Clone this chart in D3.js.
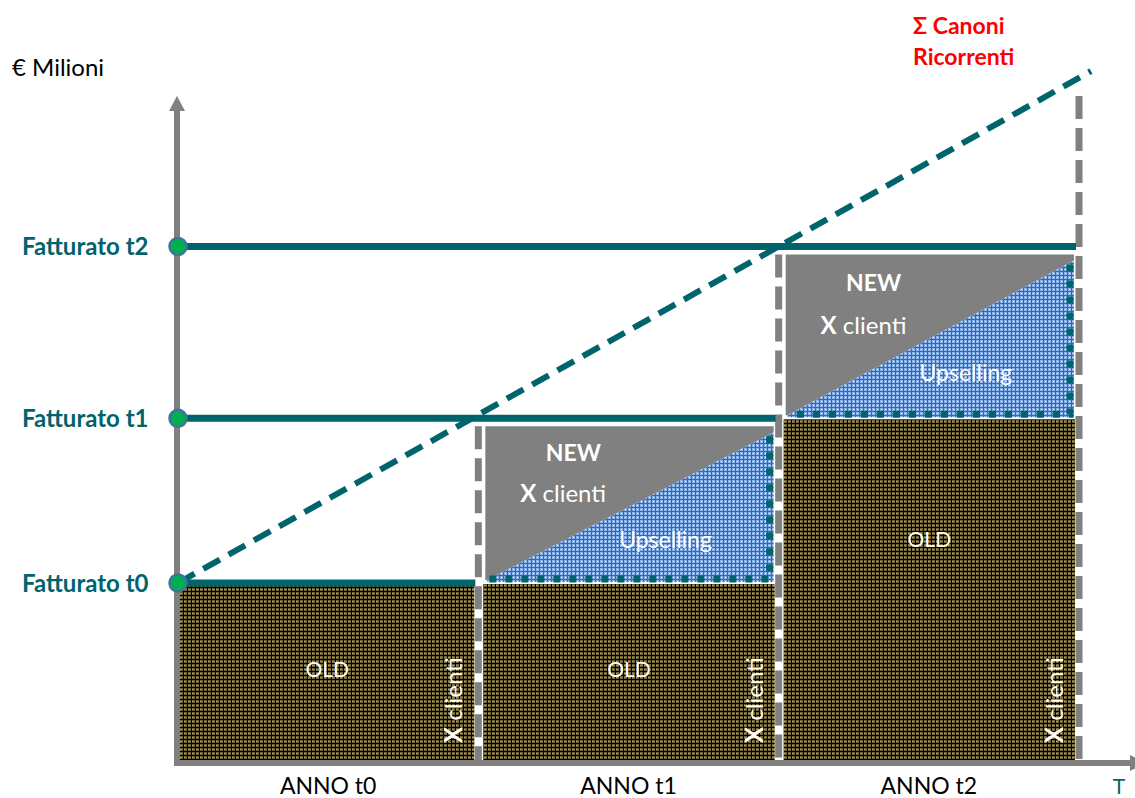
<!DOCTYPE html>
<html>
<head>
<meta charset="utf-8">
<script src="https://cdn.jsdelivr.net/npm/d3@7"></script>
<style>
  html, body { margin: 0; padding: 0; background: #ffffff; }
  svg { display: block; font-family: Lato, "Open Sans", sans-serif; }
</style>
</head>
<body>
<svg id="chart" width="1135" height="798"></svg>
<script>
// ---- data ----
const years = ["ANNO t0", "ANNO t1", "ANNO t2"];
const fatturatoLabels = ["Fatturato t0", "Fatturato t1", "Fatturato t2"];
const fatturato = [10, 19.2, 28.8];          // revenue level reached in each year
const oldRevenue = [10, 10, 19.2];           // recurring revenue from existing clients
const canoniYears = [0, 1, 2, 3.04];
const canoniValues = [10, 19.4, 28.8, 38.6]; // cumulative recurring fees
const axisTopValue = 37.2;

// ---- layout ----
const W = 1135, H = 798;
const teal = "#00646c", gray = "#808080";
const svg = d3.select("#chart");

const x = d3.scaleLinear().domain([0, 3]).range([178, 1079]);
const y = d3.scaleLinear().domain([0, 40]).range([762, 46]);

// ---- textures ----
const defs = svg.append("defs");
const oldPat = defs.append("pattern").attr("id", "oldTex")
  .attr("patternUnits", "userSpaceOnUse").attr("width", 4).attr("height", 4);
oldPat.append("rect").attr("width", 4).attr("height", 4).attr("fill", "#6f6438");
oldPat.append("rect").attr("x", 0).attr("y", 3).attr("width", 4).attr("height", 1).attr("fill", "#000");
oldPat.append("rect").attr("x", 3).attr("y", 0).attr("width", 1).attr("height", 4).attr("fill", "#000");
oldPat.append("rect").attr("x", 1).attr("y", 1).attr("width", 1).attr("height", 1).attr("fill", "#d08030");
oldPat.append("rect").attr("x", 0).attr("y", 1).attr("width", 1).attr("height", 1).attr("fill", "#a0a040");

const upPat = defs.append("pattern").attr("id", "upTex")
  .attr("patternUnits", "userSpaceOnUse").attr("width", 4).attr("height", 4);
upPat.append("rect").attr("width", 4).attr("height", 4).attr("fill", "#86b0ea");
upPat.append("rect").attr("x", 0).attr("y", 3).attr("width", 4).attr("height", 1).attr("fill", "#3468c0");
upPat.append("rect").attr("x", 3).attr("y", 0).attr("width", 1).attr("height", 4).attr("fill", "#3468c0");
upPat.append("rect").attr("x", 1).attr("y", 1).attr("width", 1).attr("height", 1).attr("fill", "#ffffff");

svg.selectAll("pattern rect").attr("shape-rendering", "crispEdges");

// ---- OLD blocks ----
const oldLabelFrac = [0.48, 0.48, 0.35];
const oldBlocks = years.map((yr, i) => ({
  i,
  L: i === 0 ? x(0) + 2 : x(i) + 5,
  R: x(i + 1) - 4,
  T: y(oldRevenue[i]) + 1,
  B: y(0) - 2
}));

svg.append("g").selectAll("rect").data(oldBlocks).join("rect")
  .attr("x", d => d.L).attr("y", d => d.T)
  .attr("width", d => d.R - d.L).attr("height", d => d.B - d.T)
  .attr("fill", "url(#oldTex)");

// ---- NEW / Upselling blocks ----
const newBlocks = years.map((yr, i) => ({
  i,
  L: x(i) + 7,
  R: x(i + 1) - 5,
  T: y(fatturato[i]) + 8,
  B: y(oldRevenue[i]) - 3
})).filter(d => fatturato[d.i] > oldRevenue[d.i]);

const gNew = svg.append("g");
gNew.selectAll("path.new").data(newBlocks).join("path").attr("class", "new")
  .attr("d", d => `M${d.L},${d.T}L${d.R},${d.T}L${d.R},${d.T + 6}L${d.L + 2},${d.B}L${d.L},${d.B}Z`)
  .attr("fill", gray);
gNew.selectAll("path.up").data(newBlocks).join("path").attr("class", "up")
  .attr("d", d => `M${d.L + 2},${d.B}L${d.R},${d.T + 6}L${d.R},${d.B + 2}L${d.L + 2},${d.B + 2}Z`)
  .attr("fill", "url(#upTex)");
gNew.selectAll("path.upBorder").data(newBlocks).join("path").attr("class", "upBorder")
  .attr("d", d => `M${d.R - 4},${d.T + 10}L${d.R - 4},${d.B - 1}L${d.L + 4},${d.B - 1}`)
  .attr("fill", "none").attr("stroke", teal).attr("stroke-width", 7)
  .attr("stroke-dasharray", "7,9");

// ---- year boundaries (grey dashed) ----
const boundaries = [1, 2, 3].map(k => {
  const nb = newBlocks.find(d => d.i === k);
  return { k, top: nb ? nb.T : y(axisTopValue) };
});
svg.append("g").selectAll("line").data(boundaries).join("line")
  .attr("x1", d => x(d.k)).attr("x2", d => x(d.k))
  .attr("y1", d => d.top).attr("y2", y(0))
  .attr("stroke", gray).attr("stroke-width", 7)
  .attr("stroke-dasharray", "23,9");

// ---- Fatturato levels ----
svg.append("g").selectAll("line").data(fatturato).join("line")
  .attr("x1", x(0)).attr("x2", (d, i) => x(i + 1) - 3)
  .attr("y1", d => y(d)).attr("y2", d => y(d))
  .attr("stroke", teal).attr("stroke-width", 7);

// ---- Σ Canoni Ricorrenti ----
const canoni = canoniYears.map((t, i) => [t, canoniValues[i]]);
svg.append("path").datum(canoni)
  .attr("d", d3.line().x(d => x(d[0])).y(d => y(d[1])))
  .attr("fill", "none").attr("stroke", teal).attr("stroke-width", 6)
  .attr("stroke-dasharray", "19,10");

// ---- axes ----
const axisX0 = x(0) - 1;
const tipY = y(axisTopValue);
svg.append("line").attr("x1", axisX0).attr("x2", axisX0)
  .attr("y1", y(0) + 3).attr("y2", tipY + 12)
  .attr("stroke", gray).attr("stroke-width", 6);
svg.append("path")
  .attr("d", `M${axisX0},${tipY}L${axisX0 + 8},${tipY + 15}L${axisX0 - 8},${tipY + 15}Z`)
  .attr("fill", gray);

const baseY = y(0) + 1;
svg.append("line").attr("x1", axisX0 - 3).attr("x2", 1132)
  .attr("y1", baseY).attr("y2", baseY)
  .attr("stroke", gray).attr("stroke-width", 6);
svg.append("path")
  .attr("d", `M1146,${baseY}L1130,${baseY - 8}L1130,${baseY + 8}Z`)
  .attr("fill", gray);

// ---- level markers ----
svg.append("g").selectAll("circle").data(fatturato).join("circle")
  .attr("cx", axisX0 + 1).attr("cy", d => y(d)).attr("r", 8.5)
  .attr("fill", "#00b050").attr("stroke", "#41719c").attr("stroke-width", 2.5);

// ---- text ----
svg.append("g").selectAll("text").data(fatturato).join("text")
  .attr("x", 22).attr("y", d => y(d) + 9)
  .attr("fill", teal).attr("font-weight", 700).attr("font-size", 24)
  .text((d, i) => fatturatoLabels[i]);

svg.append("g").selectAll("text").data(years).join("text")
  .attr("x", (d, i) => (x(i) + x(i + 1)) / 2).attr("y", 794)
  .attr("text-anchor", "middle").attr("font-size", 23).attr("fill", "#000")
  .text(d => d);

svg.append("text").attr("x", 12).attr("y", 76)
  .attr("font-size", 24).attr("fill", "#000").text("€ Milioni");

svg.append("text").attr("x", 1119).attr("y", 794).attr("text-anchor", "middle")
  .attr("font-size", 21).attr("fill", teal).text("T");

const canoniTitle = svg.append("text").attr("fill", "#ff0000")
  .attr("font-weight", 700).attr("font-size", 23);
canoniTitle.append("tspan").attr("x", 913).attr("y", 34).text("Σ Canoni");
canoniTitle.append("tspan").attr("x", 913).attr("y", 65).text("Ricorrenti");

// OLD labels
svg.append("g").selectAll("text").data(oldBlocks).join("text")
  .attr("x", d => (d.L + d.R) / 2)
  .attr("y", d => d.T + oldLabelFrac[d.i] * (d.B - d.T))
  .attr("dominant-baseline", "central").attr("text-anchor", "middle")
  .attr("font-size", 21).attr("fill", "#ffffff").text("OLD");

// vertical "X clienti"
const vLab = svg.append("g").selectAll("text").data(oldBlocks).join("text")
  .attr("transform", d => `translate(${d.R - 22},${y(0) - 62}) rotate(-90)`)
  .attr("dominant-baseline", "central").attr("text-anchor", "middle")
  .attr("font-size", 24).attr("fill", "#ffffff");
vLab.append("tspan").attr("font-weight", 700).text("X");
vLab.append("tspan").text(" clienti");

// NEW / X clienti / Upselling labels
const gNewText = svg.append("g").attr("fill", "#ffffff").attr("text-anchor", "middle")
  .attr("dominant-baseline", "central");
gNewText.selectAll("text.n").data(newBlocks).join("text").attr("class", "n")
  .attr("x", d => d.L + 0.305 * (d.R - d.L)).attr("y", d => d.T + 0.17 * (d.B - d.T))
  .attr("font-size", 23).attr("font-weight", 700).text("NEW");
const xc = gNewText.selectAll("text.c").data(newBlocks).join("text").attr("class", "c")
  .attr("x", d => d.L + 0.27 * (d.R - d.L)).attr("y", d => d.T + 0.43 * (d.B - d.T))
  .attr("font-size", 24);
xc.append("tspan").attr("font-weight", 700).text("X");
xc.append("tspan").text(" clienti");
gNewText.selectAll("text.u").data(newBlocks).join("text").attr("class", "u")
  .attr("x", d => d.L + 0.625 * (d.R - d.L)).attr("y", d => d.T + 0.73 * (d.B - d.T))
  .attr("font-size", 23).text("Upselling");
</script>
</body>
</html>
